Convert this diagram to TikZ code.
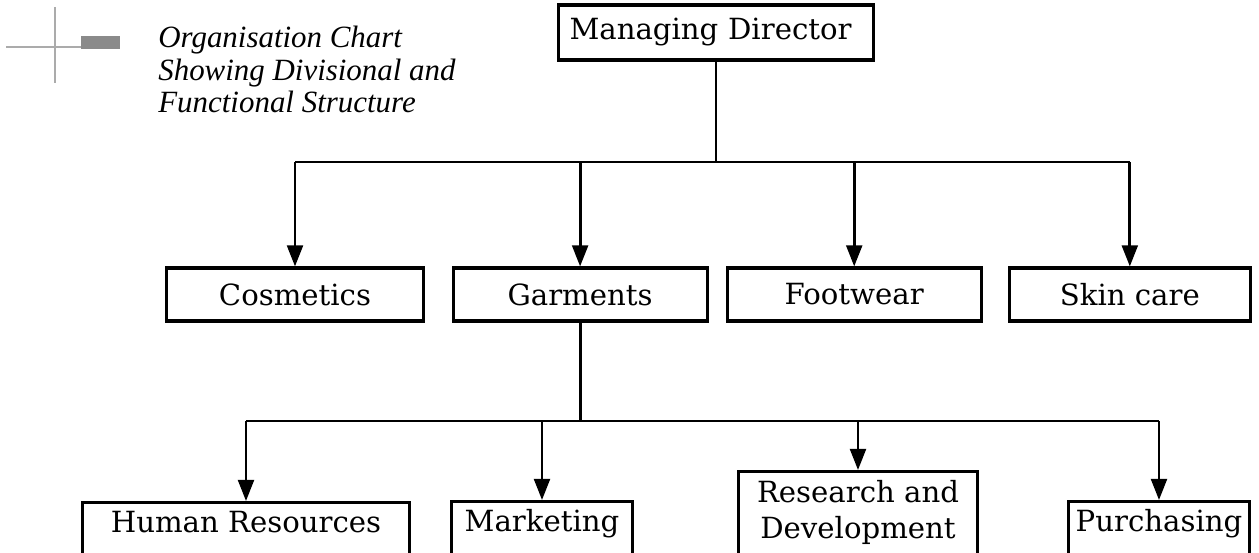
\documentclass[tikz,border=0pt]{standalone}
\usepackage{fontspec}
\setmainfont{DejaVu Serif}
\newfontfamily\titlefont{Liberation Serif}
\usetikzlibrary{positioning, arrows.meta}
\definecolor{decoGrey}{HTML}{ABABAB}
\definecolor{decoDark}{HTML}{8A8A8A}
\tikzstyle{unitbox} =[draw, line width=1.8pt, inner sep=0pt, align=center, minimum height=1.06cm]
\tikzstyle{funcbox} =[draw, line width=1.8pt, inner xsep=0pt, inner ysep=5pt, align=center, anchor=north, text height=12pt, text depth=40pt]
\tikzstyle{link} =[line width=1.6pt]
\tikzstyle{linkarrow} =[-{Triangle[length=12pt, width=9pt]}, line width=1.6pt]

\begin{document}
\begin{tikzpicture}[x=0.02cm, y=-0.02cm, font=\fontsize{16.6}{20.5}\selectfont]
\clip (0,0) rectangle (1259,553);

% corner mark
\draw[decoGrey, line width=1.2pt] (55,7) -- (55,83);
\draw[decoGrey, line width=1.2pt] (6,47) -- (82,47);
\fill[decoDark] (81,36) rectangle (120,49);

\node (chartTitle) [anchor=north west, inner sep=0pt, align=left, font=\titlefont\itshape\fontsize{17.6}{18.4}\selectfont] at (158,26) {Organisation Chart\\Showing Divisional and\\Functional Structure};

\node (md) [draw, line width=1.8pt, minimum height=1.1cm, text width=5.86cm, inner xsep=0.22cm, inner ysep=0pt, align=left] at (716,32.5) {Managing Director};

% divisions
\node (cosmetics) [unitbox, minimum width=5.14cm] at (295,294.5) {Cosmetics};
\node (garments) [unitbox, minimum width=5.08cm, right=0.53cm of cosmetics] {Garments};
\node (footwear) [unitbox, minimum width=5.08cm, right=0.34cm of garments] {Footwear};
\node (skincare) [unitbox, minimum width=4.82cm, right=0.5cm of footwear] {Skin care};

% functions under garments
\node (hr) [funcbox, minimum width=6.54cm] at (246,501) {Human Resources};
\node (marketing) [funcbox, minimum width=3.62cm] at (542,500) {Marketing};
\node (rnd) [funcbox, minimum width=4.78cm, text height=32.9pt] at (858,470) {Research and\\Development};
\node (purchasing) [funcbox, minimum width=3.62cm] at (1159,500) {Purchasing};

\coordinate (divBus) at (0,162);
\coordinate (funcBus) at (0,421);

\draw[link] (md.south) -- (md.south |- divBus);
\draw[link] (cosmetics.north |- divBus) -- (skincare.north |- divBus);
\draw[linkarrow] (cosmetics.north |- divBus) -- (cosmetics.north);
\draw[linkarrow] (garments.north |- divBus) -- (garments.north);
\draw[linkarrow] (footwear.north |- divBus) -- (footwear.north);
\draw[linkarrow] (skincare.north |- divBus) -- (skincare.north);

\draw[link] (garments.south) -- (garments.south |- funcBus);
\draw[link] (hr.north |- funcBus) -- (purchasing.north |- funcBus);
\draw[linkarrow] (hr.north |- funcBus) -- (hr.north);
\draw[linkarrow] (marketing.north |- funcBus) -- (marketing.north);
\draw[linkarrow] (rnd.north |- funcBus) -- (rnd.north);
\draw[linkarrow] (purchasing.north |- funcBus) -- (purchasing.north);

\end{tikzpicture}
\end{document}
